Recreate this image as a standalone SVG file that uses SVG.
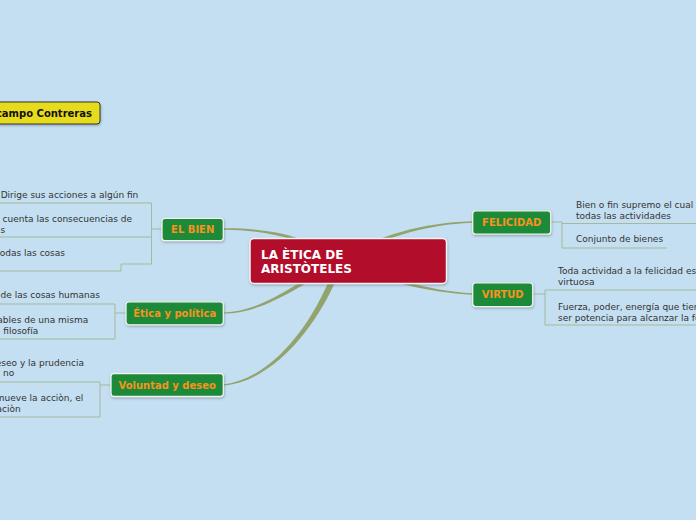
<svg xmlns="http://www.w3.org/2000/svg" width="696" height="520" viewBox="0 0 696 520">
<style>
.bg{fill:#c3dff1}
.br{fill:#93a36e}
.lf{fill:none;stroke:#a6b99b;stroke-width:1}
.gn rect{fill:#1d8a37;stroke:#eef3ee;stroke-width:1.3}
.gn text{font-family:"DejaVu Sans",Verdana,sans-serif;font-weight:bold;font-size:10px;fill:#f7931e;text-anchor:middle}
.lt{font-family:"DejaVu Sans",Verdana,sans-serif;font-size:9px;fill:#333333}
.e{text-anchor:end}
</style>
<defs>
<filter id="sh" x="-20%" y="-30%" width="140%" height="170%">
<feDropShadow dx="0.5" dy="1.2" stdDeviation="0.8" flood-color="#556" flood-opacity="0.45"/>
</filter>
</defs>
<rect class="bg" x="0" y="0" width="696" height="520"/>

<g id="connectors">
<path class="br" d="M224,228.3 C275,228 310,238.2 340,259 L340,265 C310,241.8 275,230 224,229.7 Z"/>
<path class="br" d="M223.7,312.4 C264.6,311.1 294.3,283.4 338.8,259.3 L341.2,264.7 C295.7,286.6 265.4,312.9 224.3,313.6 Z"/>
<path class="br" d="M223.4,384.5 C269,379.2 313,328.5 337.2,259.9 L342.8,264.1 C317,331.5 271,380.8 224.6,385.5 Z"/>
<path class="br" d="M472,221.3 C420,223 375,236.3 340,259 L340,265 C375,239.7 420,225 472,222.7 Z"/>
<path class="br" d="M472,293.3 C430,291 380,276.2 340,259 L340,265 C380,279.8 430,293 472,294.7 Z"/>
<path class="lf" d="M162,229 H151.5 M151.5,203 V264 M0,203 H151.5 M0,237 H151.5 M151.5,264 H121 V271 H0"/>
<path class="lf" d="M126,313 H115 M115,304 V339 M0,304 H115 M0,339 H115"/>
<path class="lf" d="M111,385 H100 M100,382 V417 M0,382 H100 M0,417 H100"/>
<path class="lf" d="M551,222 H562 M562,222 V248 M562,223.5 H696 M562,248 H667"/>
<path class="lf" d="M533,294 H545 M545,290 V325 M545,290 H696 M545,325 H696"/>
</g>

<g id="author">
<rect x="-20" y="102" width="120" height="22" rx="3" fill="#e7dc1c" stroke="#333333" stroke-width="1" filter="url(#sh)"/>
<text x="92" y="117" font-family="DejaVu Sans,Verdana,sans-serif" font-weight="bold" font-size="10px" fill="#111111" text-anchor="end">Ocampo Contreras</text>
</g>

<g id="central">
<rect x="250" y="238.5" width="196.5" height="45" rx="4" fill="#b20b2a" stroke="#f4f4f4" stroke-width="1.5" filter="url(#sh)"/>
<text font-family="DejaVu Sans,Verdana,sans-serif" font-weight="bold" font-size="12px" fill="#ffffff"><tspan x="261" y="258.5">LA ÈTICA DE</tspan><tspan x="261" y="273">ARISTÒTELES</tspan></text>
</g>

<g id="el-bien" class="gn">
<rect x="162" y="218.3" width="61.3" height="22.4" rx="3" filter="url(#sh)"/>
<text x="192.7" y="233.3">EL BIEN</text>
</g>
<g id="etica-politica" class="gn">
<rect x="126" y="301.8" width="97.3" height="23" rx="3" filter="url(#sh)"/>
<text x="174.7" y="316.8">Ética y política</text>
</g>
<g id="voluntad-deseo" class="gn">
<rect x="111" y="373.5" width="112.3" height="23" rx="3" filter="url(#sh)"/>
<text x="167.2" y="388.5">Voluntad y deseo</text>
</g>
<g id="felicidad" class="gn">
<rect x="472.7" y="210.8" width="78" height="23.4" rx="3" filter="url(#sh)"/>
<text x="511.7" y="225.8">FELICIDAD</text>
</g>
<g id="virtud" class="gn">
<rect x="472.7" y="282.8" width="60" height="23.8" rx="3" filter="url(#sh)"/>
<text x="502.7" y="297.8">VIRTUD</text>
</g>

<g id="leaves-el-bien">
<text class="lt" x="0.7" y="198.3">Dirige sus acciones a algún fin</text>
<text class="lt e" x="132" y="222.3">en cuenta las consecuencias de</text>
<text class="lt e" x="5.3" y="232.7">s</text>
<text class="lt e" x="65" y="256">todas las cosas</text>
</g>
<g id="leaves-etica">
<text class="lt e" x="100" y="298.3">de las cosas humanas</text>
<text class="lt e" x="88.3" y="322.7">ables de una misma</text>
<text class="lt e" x="38.3" y="334">filosofía</text>
</g>
<g id="leaves-voluntad">
<text class="lt e" x="84" y="366">deseo y la prudencia</text>
<text class="lt e" x="14.3" y="376.3">no</text>
<text class="lt e" x="83.3" y="400.7">mueve la acciòn, el</text>
<text class="lt e" x="20.7" y="411.7">aciòn</text>
</g>
<g id="leaves-felicidad">
<text class="lt" x="576" y="207.5">Bien o fin supremo el cual</text>
<text class="lt" x="576" y="218.8">todas las actividades</text>
<text class="lt" x="576" y="242.3">Conjunto de bienes</text>
</g>
<g id="leaves-virtud">
<text class="lt" x="558" y="274">Toda actividad a la felicidad es</text>
<text class="lt" x="558" y="285">virtuosa</text>
<text class="lt" x="558" y="310">Fuerza, poder, energía que tiene</text>
<text class="lt" x="558" y="320.5">ser potencia para alcanzar la felicidad</text>
</g>
</svg>
